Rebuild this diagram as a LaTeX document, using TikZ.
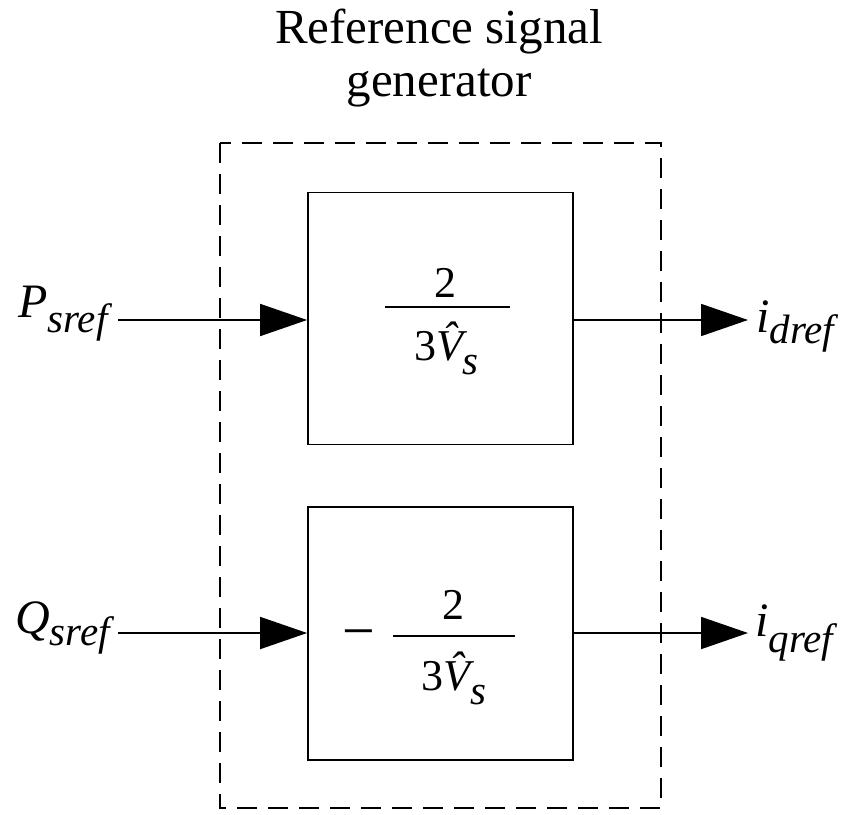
\documentclass[tikz,border=0pt]{standalone}
\usepackage{fontspec}
\setmainfont{LiberationSerif}[Extension=.ttf,UprightFont=*-Regular,ItalicFont=*-Italic,BoldFont=*-Bold,BoldItalicFont=*-BoldItalic]
\usetikzlibrary{arrows.meta}
\newcommand{\subf}{\fontsize{41}{46}\selectfont}
\begin{document}
\begin{tikzpicture}[x=1pt,y=-1pt,
  blockbox/.style={draw,line width=1.8pt,minimum width=265pt,minimum height=252pt,inner sep=0pt},
  outerbox/.style={draw,line width=1.8pt,dash pattern=on 20pt off 11pt},
  arr/.style={line width=1.8pt,-{Triangle[length=47pt,width=32pt]}},
  lbl/.style={anchor=base west,inner sep=0pt,font=\fontsize{48}{52}\selectfont\itshape},
  mtext/.style={anchor=base,inner sep=0pt,font=\fontsize{44}{50}\selectfont},
  barline/.style={line width=1.8pt}
]
\useasboundingbox (0,0) rectangle (842,814);
% outer dashed box
\draw[outerbox] (220,143) rectangle (661,808);
% title
\node[anchor=base,inner sep=0pt,align=center,font=\fontsize{49}{53}\selectfont] (title) at (439,96) {Reference signal\\generator};
% blocks
\node[blockbox] (b1) at (440.5,318.5) {};
\node[blockbox,minimum height=253pt] (b2) at (440.5,633.5) {};
% top fraction
\node[mtext] (n1) at (445,297) {2};
\node[mtext] (d1) at (446.5,360) {3{\itshape\^{V}}\raisebox{-14pt}{\subf\itshape s}};
\draw[barline] (385,307) -- (510,307);
% bottom fraction
\node[mtext,font=\fontsize{58}{60}\selectfont] (m2) at (359,650) {−};
\node[mtext] (n2) at (453,619) {2};
\node[mtext] (d2) at (454,690) {3{\itshape\^{V}}\raisebox{-14pt}{\subf\itshape s}};
\draw[barline] (393,636) -- (515,636);
% labels
\node[lbl] (psref) at (18,317) {P\raisebox{-15pt}{\subf sref}};
\node[lbl] (qsref) at (15,633) {Q\raisebox{-12pt}{\subf sref}};
\node[lbl] (idref) at (756,332) {i\raisebox{-11pt}{\subf dref}};
\node[lbl] (iqref) at (755,636) {i\raisebox{-16pt}{\subf qref}};
% connector ends
\coordinate (pin) at (118,320);
\coordinate (qin) at (118,633);
\coordinate (dout) at (748,320);
\coordinate (qout) at (748,633);
\draw[arr] (pin) -- (b1.west |- pin);
\draw[arr] (qin) -- (b2.west |- qin);
\draw[arr] (b1.east |- dout) -- (dout);
\draw[arr] (b2.east |- qout) -- (qout);
\end{tikzpicture}
\end{document}
